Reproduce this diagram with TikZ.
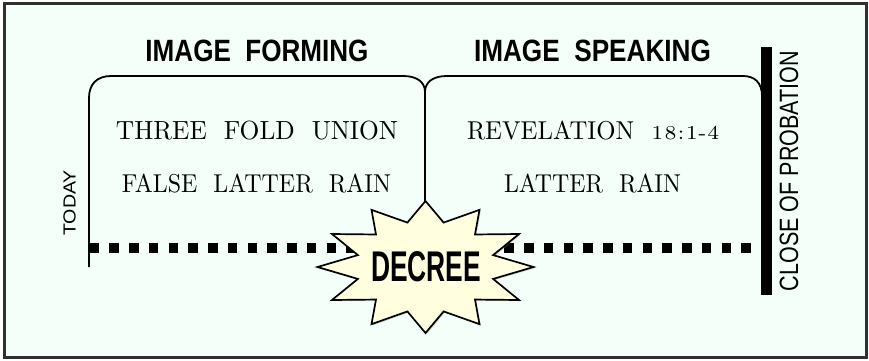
\documentclass[tikz,border=0pt]{standalone}
\usepackage{fontspec}
\usepackage{graphicx}
\usetikzlibrary{shadows}
\newfontfamily\hsans{Liberation Sans}
\definecolor{mint}{HTML}{F5FFFA}
\definecolor{staryellow}{HTML}{FFFFE0}
\definecolor{framegray}{HTML}{303030}
\newcommand\fitto[3]{\resizebox{#1pt}{#2pt}{#3}}
\begin{document}
\begin{tikzpicture}[x=1pt,y=-1pt,
  lbl/.style={inner sep=0pt, outer sep=0pt},
  bracket/.style={line width=1.8pt, line join=round},
  dots/.style={line width=10pt, dash pattern=on 9.5pt off 10.25pt},
  starshape/.style={line width=1.7pt, fill=staryellow, draw=black,
    drop shadow={shadow xshift=1.2pt, shadow yshift=-1.2pt, opacity=0.35}},
]
\useasboundingbox (0,0) rectangle (869,360);
% frame
\draw[line width=2.6pt, draw=framegray, fill=mint] (4.5,3.5) rectangle (866.5,357.5);

% coordinates
\coordinate (todaybase) at (89,267);
\coordinate (cusp) at (425,92);
\coordinate (startop) at (425,201);
\coordinate (dotstart) at (89.5,248);

% closing bar
\node[fill=black, inner sep=0pt, minimum width=11pt, minimum height=248pt] (closebar) at (766,171) {};

% bracket
\draw[bracket] (todaybase) -- (89,98) .. controls (89,84) and (97,76) .. (111,76)
  -- (403,76) .. controls (417,76) and (425,82) .. (cusp)
  .. controls (425,82) and (433,76) .. (447,76)
  -- (743,76) .. controls (754,76) and (762,82) .. (762,96) -- (762,110);
\draw[bracket] (cusp) -- (startop);

% dotted time line
\draw[dots] (dotstart) -- (dotstart -| closebar.west);

% redraw bar on top
\node[fill=black, inner sep=0pt, minimum width=11pt, minimum height=248pt] at (closebar) {};

% starburst
\path[starshape] plot[variable=\k, samples at={0,...,23}]
  ({425.5+ifthenelse(mod(\k,2)==0,108,70)*cos(90-15*\k)},
   {267-ifthenelse(mod(\k,2)==0,66,46)*sin(90-15*\k)}) -- cycle;
\node[lbl] (decree) at (426,267) {\fitto{110}{30}{\hsans\bfseries DECREE}};

% headings
\node[lbl] (hform) at (257,51) {\fitto{223}{21.5}{\hsans\bfseries IMAGE~~FORMING}};
\node[lbl] (hspeak) at (592.5,51) {\fitto{237}{21.5}{\hsans\bfseries IMAGE~~SPEAKING}};

% box texts
\node[lbl] (t1) at (257,131) {\fitto{282}{18.5}{THREE~~FOLD~~UNION}};
\node[lbl] (t2) at (256.5,183.5) {\fitto{269}{18.5}{FALSE~~LATTER~~RAIN}};
\node[lbl] (t3) at (593,131) {\fitto{252}{18.5}{REVELATION\hspace{7pt}\scalebox{1.15}[1]{\fontsize{7.6}{8}\selectfont 1\kern0.6pt 8\kern0.6pt:\kern0.6pt 1\kern0.4pt-\kern0.4pt 4}}};
\node[lbl] (t4) at (592.5,183.5) {\fitto{177}{18.5}{LATTER~~RAIN}};

% side labels
\node[lbl, rotate=90, anchor=center] (today) at (69.5,203) {\hsans\fontsize{17.5}{18}\selectfont\scalebox{1.12}[1]{TODAY}};
\node[lbl, rotate=90] (cop) at (789,171) {\fitto{240}{18.5}{\hsans CLOSE OF PROBATION}};
\end{tikzpicture}
\end{document}
